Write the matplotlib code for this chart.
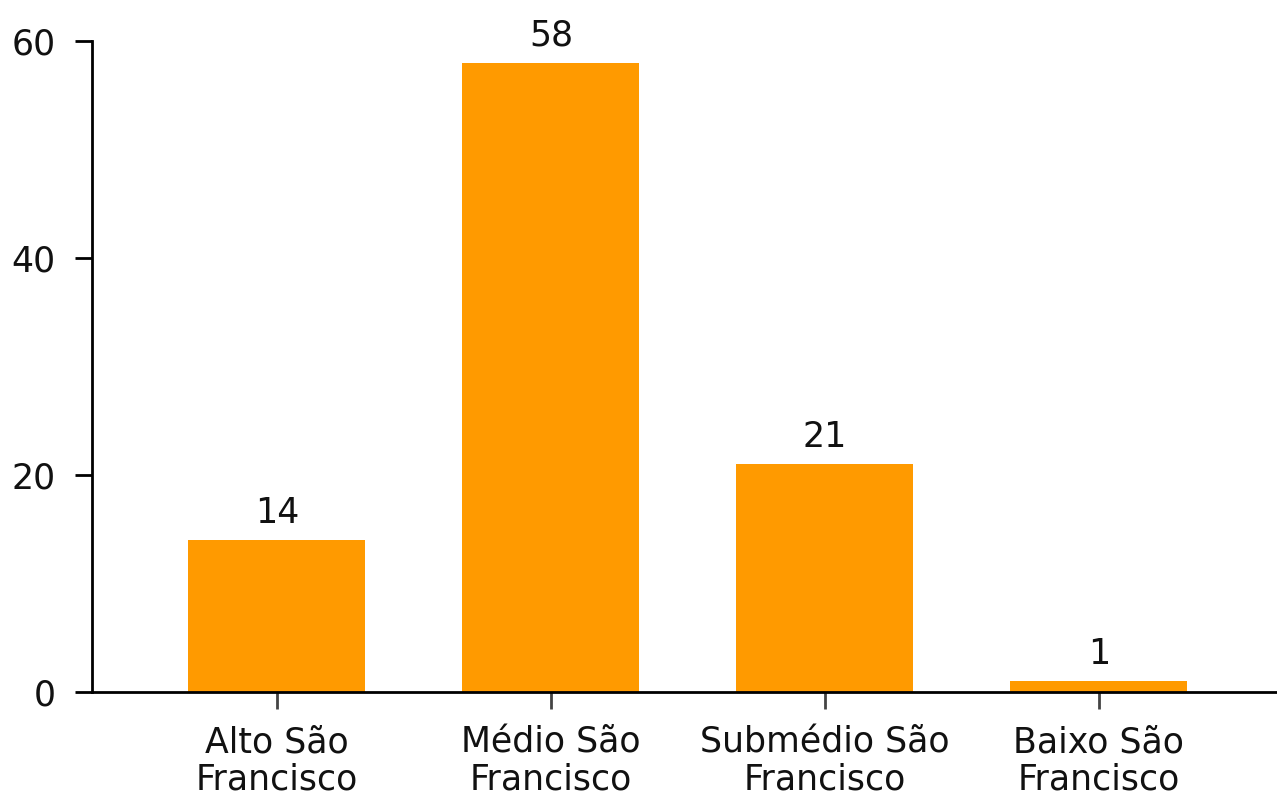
import matplotlib
matplotlib.use("Agg")
import matplotlib.pyplot as plt

# ========= DATA =========
categories = ["Alto São\nFrancisco", "Médio São\nFrancisco", "Submédio São\nFrancisco", "Baixo São\nFrancisco"]
values = [14, 58, 21, 1]
yticks = [0, 20, 40, 60]

BAR_COLOR = "#FF9A00"
FS = 25
plt.rcParams["font.family"] = ["DejaVu Sans"]

fig = plt.figure(figsize=(12.77, 8.05), dpi=100)
ax = fig.add_axes([0.072, 0.1404, 0.928, 0.8087])

x = range(len(categories))
bars = ax.bar(x, values, width=0.646, color=BAR_COLOR, zorder=2)
for b, v in zip(bars, values):
    ax.text(b.get_x() + b.get_width() / 2, v + 0.9, str(v),
            ha="center", va="bottom", fontsize=FS, color="#111111")

ax.set_xlim(-0.675, 3.65)
ax.set_ylim(0, 60)
ax.set_yticks(yticks)
ax.set_xticks(list(x))
ax.set_xticklabels(categories, fontsize=FS, linespacing=1.1)
ax.tick_params(axis="y", labelsize=FS, length=12, width=2, pad=14, labelcolor="#111111")
ax.tick_params(axis="x", length=12, width=2, pad=12, color="#444444", labelcolor="#111111")

for s in ["top", "right"]:
    ax.spines[s].set_visible(False)
ax.spines["left"].set_linewidth(2)
ax.spines["bottom"].set_linewidth(2)

fig.savefig("out.png", dpi=100)
